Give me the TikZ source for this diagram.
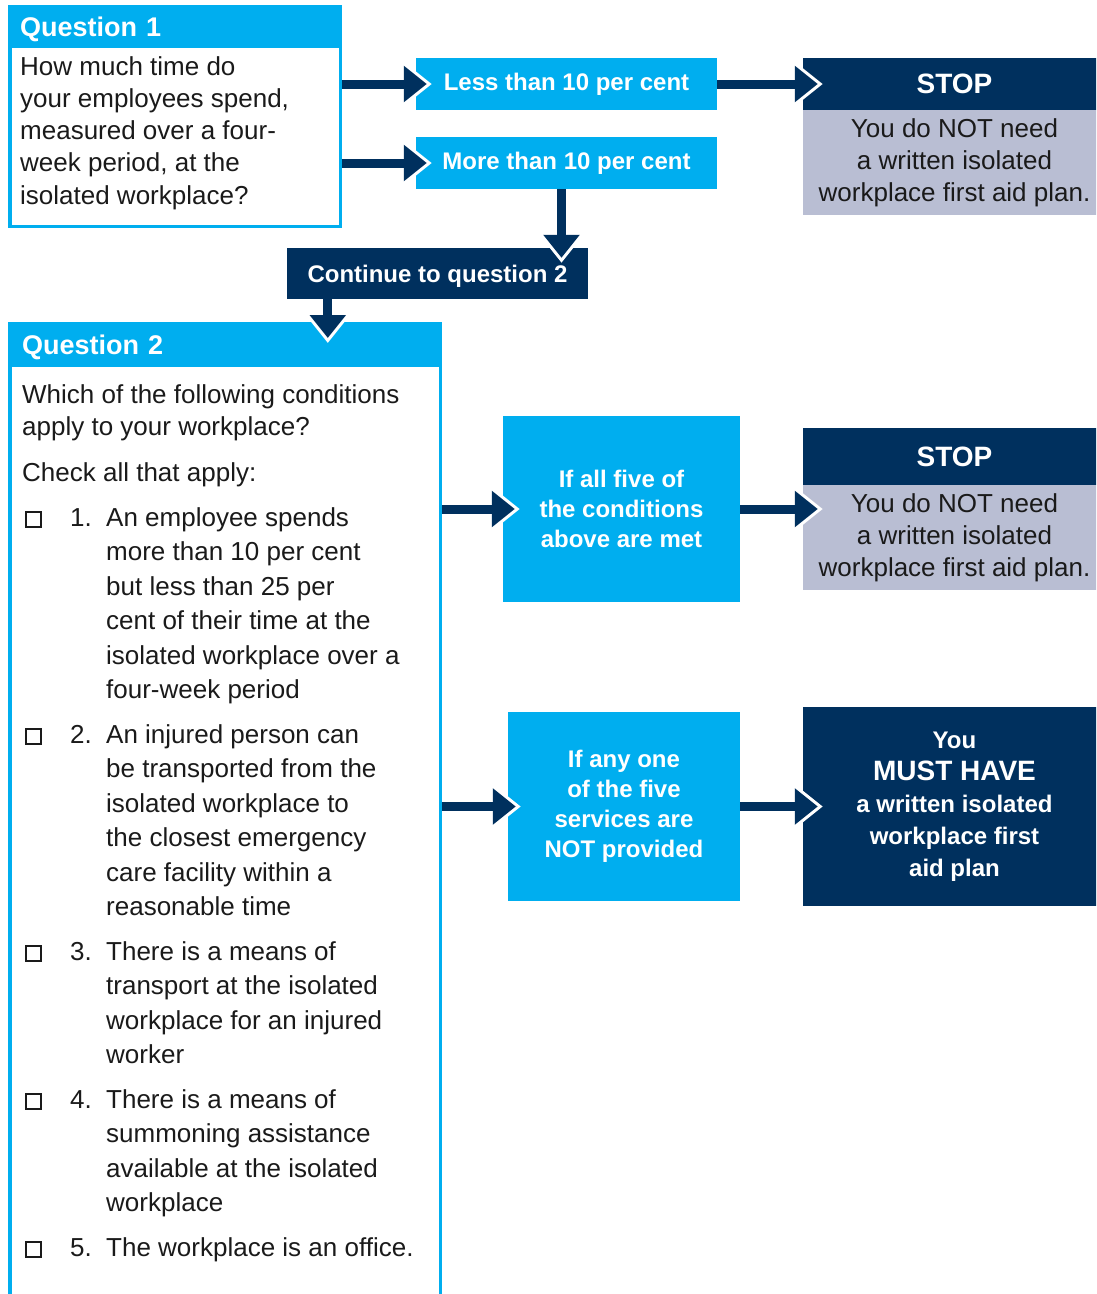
\documentclass[tikz,border=0pt]{standalone}
\usepackage{fontspec}
\setmainfont{Liberation Sans}
\usepackage{tikz}
\usetikzlibrary{arrows.meta,positioning}
\definecolor{qblue}{HTML}{00AEEF}
\definecolor{navy}{HTML}{00305E}
\definecolor{stopgray}{HTML}{B9BED3}
\definecolor{ink}{HTML}{1A1A1A}
\newcommand{\bodyfont}{\fontsize{26}{32.3}\selectfont}
\newcommand{\listfont}{\fontsize{26}{34.5}\selectfont}
\newcommand{\boldbox}{\fontsize{24}{30}\selectfont\bfseries}
\newcommand{\chk}{{\setlength{\fboxsep}{0pt}\setlength{\fboxrule}{2pt}\fbox{\rule{0pt}{13pt}\rule{13pt}{0pt}}}}
\tikzset{
  qframe/.style={draw=qblue,line width=3.5pt,inner sep=0pt},
  qhead/.style={fill=qblue,text=white,inner xsep=12pt,inner ysep=0pt,
                text height=19.5pt,text depth=0pt,
                align=left,font=\fontsize{27}{32}\selectfont\bfseries},
  answer/.style={fill=qblue,text=white,inner sep=0pt,align=center,font=\boldbox},
  navybox/.style={fill=navy,text=white,inner sep=0pt,align=center,font=\boldbox},
  stophead/.style={fill=navy,text=white,inner sep=0pt,
                   minimum width=303pt,minimum height=52pt,
                   font=\fontsize{28}{32}\selectfont\bfseries},
  stopbody/.style={fill=stopgray,text=ink,inner sep=0pt,
                   minimum width=303pt,minimum height=105pt,
                   align=center,font=\bodyfont},
  bodytext/.style={text=ink,inner sep=0pt,anchor=base west,font=\bodyfont},
  flowarr/.style={draw=navy,line width=9pt,-{Triangle[length=23pt,width=35pt]},
                  preaction={draw=white,shorten >=-5pt,-{Triangle[length=28pt,width=42.6pt]}}}
}

\begin{document}
\begin{tikzpicture}[x=1pt,y=-1pt]
  \path[use as bounding box,clip] (0,0) rectangle (1096,1294);

  % question 1
  \node[qframe,minimum width=330.5pt,minimum height=219.5pt,anchor=north west] (q1) at (8,5) {};
  \node[qhead,text width=310pt,minimum height=43pt,anchor=north west] (q1h) at (8,5) {Question 1};
  \node[bodytext] (q1txt) at (20,75) {\begin{tabular}[t]{@{}l@{}}
      How much time do\\your employees spend,\\measured over a four-\\week period, at the\\isolated workplace?
    \end{tabular}};

  \node[answer,minimum width=301pt,minimum height=52pt] (less) at (566.5,84) {Less than 10 per cent};
  \node[answer,minimum width=301pt,minimum height=52pt] (more) at (566.5,163) {More than 10 per cent};

  \node[stophead] (stop1h) at (954.5,84) {STOP};
  \node[stopbody,below=0pt of stop1h] (stop1b)
    {You do NOT need\\a written isolated\\workplace first aid plan.};

  \node[navybox,minimum width=301pt,minimum height=51pt,text height=17pt,text depth=0pt] (cont) at (437.5,273.5) {Continue to question 2};

  % question 2
  \node[qframe,minimum width=430.5pt,minimum height=1006pt,anchor=north west] (q2) at (8,322) {};
  \node[qhead,text width=406pt,inner xsep=14pt,minimum height=45pt,anchor=north west] (q2h) at (8,322) {Question 2};
  \node[bodytext] (q2txt) at (22,403) {\begin{tabular}[t]{@{}l@{}}
      Which of the following conditions\\apply to your workplace?
    \end{tabular}};
  \node[bodytext] (q2chk) at (22,481) {Check all that apply:};
  \node[bodytext,font=\listfont] (q2list) at (25,526) {\begin{tabular}[t]{@{}p{45pt}@{}p{36pt}@{}l@{}}
      \chk & 1. & An employee spends\\
           &    & more than 10 per cent\\
           &    & but less than 25 per\\
           &    & cent of their time at the\\
           &    & isolated workplace over a\\
           &    & four-week period\\[10pt]
      \chk & 2. & An injured person can\\
           &    & be transported from the\\
           &    & isolated workplace to\\
           &    & the closest emergency\\
           &    & care facility within a\\
           &    & reasonable time\\[10pt]
      \chk & 3. & There is a means of\\
           &    & transport at the isolated\\
           &    & workplace for an injured\\
           &    & worker\\[10pt]
      \chk & 4. & There is a means of\\
           &    & summoning assistance\\
           &    & available at the isolated\\
           &    & workplace\\[10pt]
      \chk & 5. & The workplace is an office.
    \end{tabular}};

  \node[answer,minimum width=237pt,minimum height=186pt] (all) at (621.5,509)
    {If all five of\\the conditions\\above are met};
  \node[stophead,minimum height=57pt] (stop2h) at (954.5,456.5) {STOP};
  \node[stopbody,below=0pt of stop2h] (stop2b)
    {You do NOT need\\a written isolated\\workplace first aid plan.};

  \node[answer,minimum width=232pt,minimum height=189pt] (any) at (624,806.5)
    {If any one\\of the five\\services are\\NOT provided};
  \node[navybox,minimum width=303pt,minimum height=199pt,font=\fontsize{24}{32}\selectfont\bfseries] (must) at (954.5,806.5)
    {You\\{\fontsize{28}{32}\selectfont MUST HAVE}\\a written isolated\\workplace first\\aid plan};

  % arrows
  \draw[flowarr] (less.west -| q1.east) -- ([xshift=11pt]less.west);
  \draw[flowarr] (more.west -| q1.east) -- ([xshift=11pt]more.west);
  \draw[flowarr] (less.east) -- ([xshift=15pt]stop1h.west);
  \draw[flowarr] ([xshift=-5pt]more.south) -- ([xshift=-5pt,yshift=-10pt]more.south |- cont.north);
  \coordinate (c2) at ([xshift=41pt]cont.south west);
  \draw[flowarr] (c2) -- ([yshift=-16pt]c2 |- q2h.north);
  \draw[flowarr] (all.west -| q2.east) -- ([xshift=12pt]all.west);
  \draw[flowarr] (all.east) -- ([xshift=15pt]all.east -| stop2b.west);
  \draw[flowarr] (any.west -| q2.east) -- ([xshift=8pt]any.west);
  \draw[flowarr] (any.east) -- ([xshift=15pt]must.west);
\end{tikzpicture}
\end{document}
